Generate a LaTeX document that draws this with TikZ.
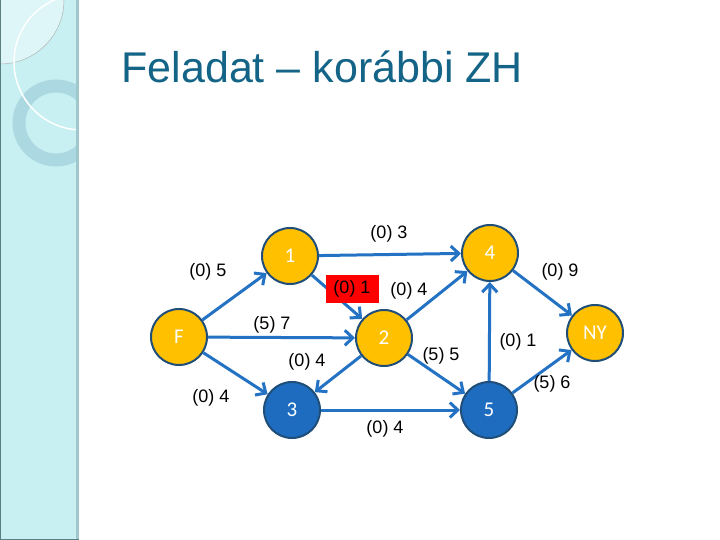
\documentclass[tikz,border=0pt]{standalone}
\usepackage{fontspec}
\setmainfont{Liberation Sans}
\newfontfamily\nodefont{Carlito}
\usetikzlibrary{arrows.meta}
\definecolor{edgeblue}{RGB}{36,114,196}
\definecolor{rimblue}{RGB}{31,78,121}
\definecolor{nodeorange}{RGB}{255,192,0}
\definecolor{nodeblue}{RGB}{30,108,192}
\definecolor{titleteal}{RGB}{20,100,136}
\definecolor{bandcyan}{RGB}{200,240,242}
\definecolor{bandedge}{RGB}{160,200,204}
\definecolor{ringblue}{RGB}{172,216,226}

\begin{document}
\begin{tikzpicture}[
    x=1pt, y=-1pt,
    vertex/.style={circle, draw=rimblue, line width=2pt, minimum size=56pt, inner sep=0pt, font=\nodefont\fontsize{21}{21}\selectfont, text=white},
    done/.style={vertex, fill=nodeorange},
    open/.style={vertex, fill=nodeblue},
    lbl/.style={inner sep=1pt, font=\fontsize{18}{18}\selectfont},
    edge/.style={-{Straight Barb[length=8pt, width=15pt]}, line width=3pt, draw=edgeblue}
  ]
    \useasboundingbox (0,0) rectangle (720,540);
    \fill[white] (0,0) rectangle (720,540);

    % side band
    \fill[bandcyan] (0,0) rectangle (77,540);
    \begin{scope}
      \clip (0,0) rectangle (77,540);
      \fill[white, opacity=0.4] (0,0) circle[radius=64pt];
      \draw[gray!60, line width=0.5pt] (0,0) circle[radius=64pt];
      \draw[ringblue, line width=13pt] (56,123) circle[radius=37pt];
      \draw[white, line width=1.5pt] (82,62) circle[radius=68pt];
    \end{scope}
    \fill[bandedge] (76,0) rectangle (79,540);
    \draw[gray!70!teal, line width=1pt] (0.5,0) -- (0.5,539.5) -- (79,539.5);

    \node[anchor=base west, text=titleteal, font=\fontsize{43}{43}\selectfont] (title) at (118,83) {Feladat -- korábbi ZH};

    % graph
    \node[done] (F) at (179,337) {F};
    \node[done] (n1) at (290,256) {1};
    \node[done] (n2) at (384,338) {2};
    \node[open] (n3) at (292,410) {3};
    \node[done] (n4) at (490,253) {4};
    \node[open] (n5) at (489,410) {5};
    \node[done] (NY) at (595,333) {NY};

    \draw[edge] (F) -- (n1);
    \draw[edge] (F) -- (n2);
    \draw[edge] (F) -- (n3);
    \draw[edge] (n1) -- (n4);
    \draw[edge] (n1) -- (n2);
    \draw[edge] (n2) -- (n4);
    \draw[edge] (n2) -- (n3);
    \draw[edge] (n2) -- (n5);
    \draw[edge] (n3) -- (n5);
    \draw[edge] (n5) -- (n4);
    \draw[edge] (n4) -- (NY);
    \draw[edge] (n5) -- (NY);

    \node[lbl] (lF1) at (208,272) {(0) 5};
    \node[lbl] (lF2) at (272,325) {(5) 7};
    \node[lbl] (lF3) at (211,398) {(0) 4};
    \node[lbl] (l14) at (389,234) {(0) 3};
    \node[lbl, fill=red, minimum width=53pt, minimum height=28pt] (l12) at (352,289) {(0) 1};
    \node[lbl] (l24) at (409,291) {(0) 4};
    \node[lbl] (l23) at (307,362) {(0) 4};
    \node[lbl] (l25) at (441,356) {(5) 5};
    \node[lbl] (l35) at (385,429) {(0) 4};
    \node[lbl] (l54) at (518,342) {(0) 1};
    \node[lbl] (l4NY) at (560,272) {(0) 9};
    \node[lbl] (l5NY) at (552,384) {(5) 6};
  \end{tikzpicture}
\end{document}
